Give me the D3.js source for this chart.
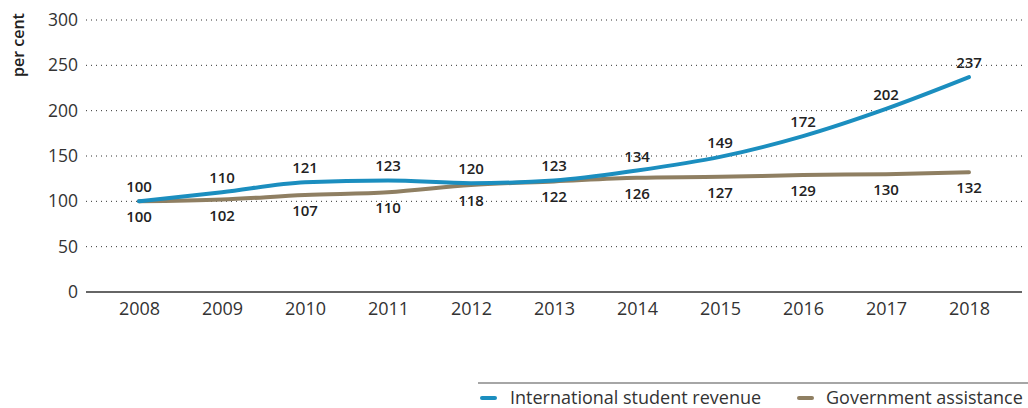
<!DOCTYPE html>
<html>
<head>
<meta charset="utf-8">
<script src="https://cdn.jsdelivr.net/npm/d3@7"></script>
<style>
  body { margin: 0; background: #fff; }
  svg { font-family: "Open Sans", "Noto Sans", sans-serif; }
</style>
</head>
<body>
<div id="chart"></div>
<script>
var years = [2008, 2009, 2010, 2011, 2012, 2013, 2014, 2015, 2016, 2017, 2018];
var intlRevenue = [100, 110, 121, 123, 120, 123, 134, 149, 172, 202, 237];
var govAssistance = [100, 102, 107, 110, 118, 122, 126, 127, 129, 130, 132];
var yTicks = [0, 50, 100, 150, 200, 250, 300];

var width = 1028, height = 408;

var svg = d3.select("#chart")
            .append("svg")
            .attr("width", width)
            .attr("height", height);

var x = d3.scalePoint()
          .domain(years)
          .range([139, 969]);

var y = d3.scaleLinear()
          .domain([0, 300])
          .range([292, 20]);

// dotted gridlines
svg.selectAll(".grid")
   .data(yTicks.filter(function(d){ return d > 0; }))
   .enter()
   .append("line")
   .attr("x1", 86)
   .attr("x2", 1022)
   .attr("y1", function(d){ return y(d); })
   .attr("y2", function(d){ return y(d); })
   .attr("stroke", "#333")
   .attr("stroke-width", 1)
   .attr("stroke-dasharray", "1,4");

// y axis labels
var yAxis = d3.axisLeft(y).tickValues(yTicks).tickSize(0).tickPadding(8);
var gy = svg.append("g").attr("transform", "translate(86,0)").call(yAxis);
gy.select(".domain").remove();
gy.selectAll("text").attr("font-size", 17.5).attr("fill", "#333")
  .attr("font-family", "'Open Sans', sans-serif");

// x axis
var xAxis = d3.axisBottom(x).tickSize(0).tickPadding(10);
var gx = svg.append("g").attr("transform", "translate(0,292)").call(xAxis);
gx.select(".domain").remove();
gx.append("line").attr("x1", 86).attr("x2", 1022)
  .attr("stroke", "#333").attr("stroke-width", 1.5);
gx.selectAll("text").attr("font-size", 18).attr("fill", "#333")
  .attr("font-family", "'Open Sans', sans-serif");

// y title
svg.append("text")
   .attr("transform", "translate(24,45) rotate(-90)")
   .attr("text-anchor", "middle")
   .attr("font-size", 16)
   .attr("font-weight", 600)
   .attr("fill", "#222")
   .text("per cent");

var line = d3.line()
             .x(function(d, i){ return x(years[i]); })
             .y(function(d){ return y(d); })
             .curve(d3.curveMonotoneX);

var series = [
  { name: "Government assistance", values: govAssistance, color: "#8f7f62", dy: 21 },
  { name: "International student revenue", values: intlRevenue, color: "#1b8ebf", dy: -9 }
];

series.forEach(function(s){
  svg.append("path")
     .datum(s.values)
     .attr("d", line)
     .attr("fill", "none")
     .attr("stroke", s.color)
     .attr("stroke-width", 4)
     .attr("stroke-linecap", "round");
});

// value labels
series.forEach(function(s){
  svg.selectAll(null)
     .data(s.values)
     .enter()
     .append("text")
     .attr("x", function(d, i){ return x(years[i]); })
     .attr("y", function(d){ return y(d) + s.dy; })
     .attr("text-anchor", "middle")
     .attr("font-size", 15)
     .attr("font-weight", 600)
     .attr("fill", "#222")
     .text(function(d){ return d; });
});

// legend
svg.append("line").attr("x1", 478).attr("x2", 1028)
   .attr("y1", 383).attr("y2", 383)
   .attr("stroke", "#888").attr("stroke-width", 1.5);

var legendItems = [
  { name: "International student revenue", color: "#1b8ebf", x: 480, tx: 510 },
  { name: "Government assistance", color: "#8f7f62", x: 797, tx: 826 }
];
legendItems.forEach(function(l){
  svg.append("line").attr("x1", l.x + 2).attr("x2", l.x + 15)
     .attr("y1", 398).attr("y2", 398)
     .attr("stroke", l.color).attr("stroke-width", 4).attr("stroke-linecap", "round");
  svg.append("text").attr("x", l.tx).attr("y", 404)
     .attr("font-size", 18).attr("fill", "#333")
     .text(l.name);
});
</script>
</body>
</html>
